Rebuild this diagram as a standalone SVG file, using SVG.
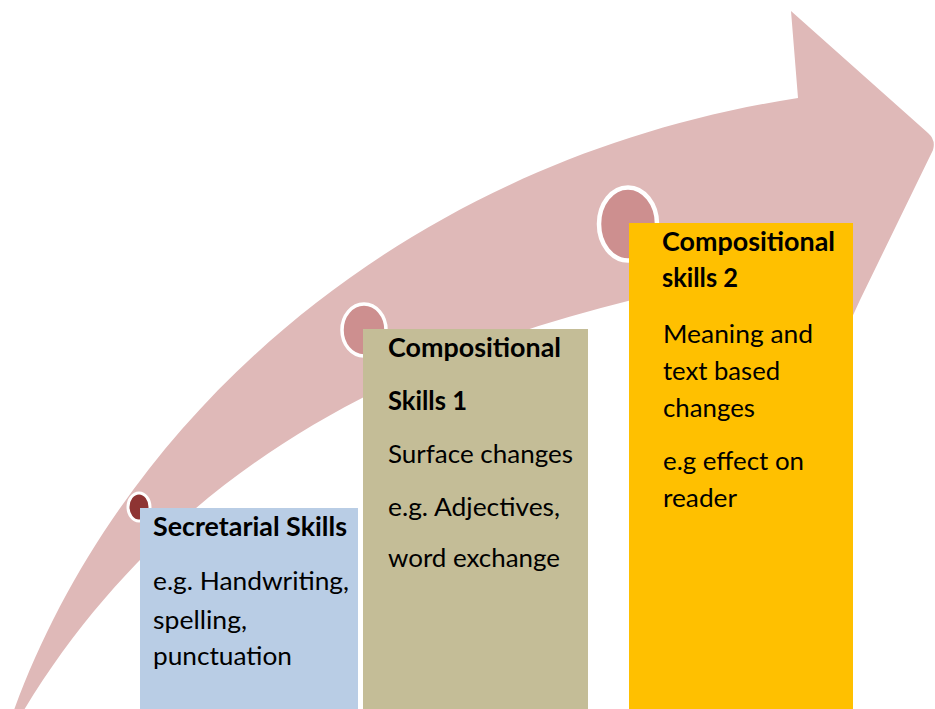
<svg xmlns="http://www.w3.org/2000/svg" width="935" height="709" viewBox="0 0 935 709">
<style>
.bg{fill:#ffffff}
.arrow{fill:#DFB9B8}
.ring{stroke:#ffffff}
.dot{fill:#CD8F8F}
.dot1{fill:#8E3433}
.t{font-family:Lato,"Open Sans","DejaVu Sans",sans-serif;font-size:24.5px;fill:#000000}
.b{font-weight:bold;font-size:26px}
</style>
<rect class="bg" x="0" y="0" width="935" height="709"/>
<g id="progress-arrow">
<path class="arrow" d="M 14,710 C 120,420 400,160 798,98 L 791,11 L 928,133 Q 936,140 933,150 L 860,300 L 838,348 L 845,262 C 500,305 200,420 24,710 Z"/>
</g>
<g id="connectors"></g>
<g id="node-secretarial">
<ellipse class="dot1 ring" cx="139" cy="507" rx="11" ry="14" stroke-width="3"/>
<rect x="140" y="508" width="218" height="201" fill="#B9CDE5"/>
<text class="t b" x="153" y="536" textLength="194" lengthAdjust="spacingAndGlyphs">Secretarial Skills</text>
<text class="t" x="153" y="590" textLength="196" lengthAdjust="spacingAndGlyphs">e.g. Handwriting,</text>
<text class="t" x="153" y="629" textLength="94" lengthAdjust="spacingAndGlyphs">spelling,</text>
<text class="t" x="153" y="665" textLength="139" lengthAdjust="spacingAndGlyphs">punctuation</text>
</g>
<g id="node-compositional-1">
<ellipse class="dot ring" cx="364" cy="330" rx="22" ry="26" stroke-width="3.5"/>
<rect x="363" y="329" width="225" height="380" fill="#C4BD97"/>
<text class="t b" x="388" y="357" textLength="173" lengthAdjust="spacingAndGlyphs">Compositional</text>
<text class="t b" x="388" y="410" textLength="79" lengthAdjust="spacingAndGlyphs">Skills 1</text>
<text class="t" x="388" y="463" textLength="185" lengthAdjust="spacingAndGlyphs">Surface changes</text>
<text class="t" x="388" y="516" textLength="172" lengthAdjust="spacingAndGlyphs">e.g. Adjectives,</text>
<text class="t" x="388" y="567" textLength="172" lengthAdjust="spacingAndGlyphs">word exchange</text>
</g>
<g id="node-compositional-2">
<ellipse class="dot ring" cx="628" cy="224" rx="29" ry="36.5" stroke-width="4.5"/>
<rect x="629" y="223" width="224" height="486" fill="#FFC000"/>
<text class="t b" x="662" y="251" textLength="173" lengthAdjust="spacingAndGlyphs">Compositional</text>
<text class="t b" x="662" y="287" textLength="76" lengthAdjust="spacingAndGlyphs">skills 2</text>
<text class="t" x="663" y="343" textLength="150" lengthAdjust="spacingAndGlyphs">Meaning and</text>
<text class="t" x="663" y="380" textLength="117" lengthAdjust="spacingAndGlyphs">text based</text>
<text class="t" x="663" y="417" textLength="92" lengthAdjust="spacingAndGlyphs">changes</text>
<text class="t" x="663" y="470" textLength="141" lengthAdjust="spacingAndGlyphs">e.g effect on</text>
<text class="t" x="663" y="507" textLength="74" lengthAdjust="spacingAndGlyphs">reader</text>
</g>
</svg>
